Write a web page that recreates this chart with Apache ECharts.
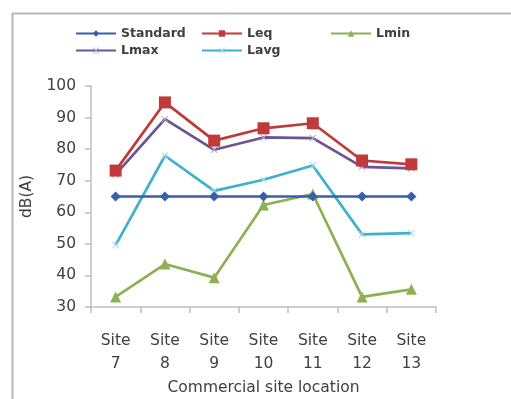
<!DOCTYPE html>
<html>
<head>
<meta charset="utf-8">
<script src="https://cdn.jsdelivr.net/npm/echarts@6/dist/echarts.min.js"></script>
<style>
  html, body { margin: 0; padding: 0; background: #fff; }
  #chart { width: 511px; height: 399px; }
</style>
</head>
<body>
<div id="chart"></div>
<script>
// Noise levels at commercial sites, dB(A)
const sites = ['Site\n7', 'Site\n8', 'Site\n9', 'Site\n10', 'Site\n11', 'Site\n12', 'Site\n13'];
const standard = [65, 65, 65, 65, 65, 65, 65];
const leq  = [73.2, 94.8, 82.7, 86.6, 88.2, 76.4, 75.2];
const lmin = [33.2, 43.6, 39.3, 62.3, 65.8, 33.2, 35.6];
const lmax = [72.0, 89.5, 79.8, 83.7, 83.5, 74.4, 73.9];
const lavg = [49.6, 77.9, 66.8, 70.3, 74.8, 53.0, 53.4];

const FONT = '"DejaVu Sans", "Liberation Sans", sans-serif';
const CROSS = 'path://M0,1 L1,0 L5,4 L9,0 L10,1 L6,5 L10,9 L9,10 L5,6 L1,10 L0,9 L4,5 Z';
const chart = echarts.init(document.getElementById('chart'), null, { renderer: 'canvas' });

function lineSeries(name, data, color, symbol, size, z, markColor) {
  return {
    name, type: 'line', data, z,
    symbol, symbolSize: size,
    lineStyle: { color, width: 2.7 },
    itemStyle: { color: markColor || color, borderColor: markColor || color, borderWidth: 0 },
    emphasis: { disabled: true },
    animation: false
  };
}

// one legend block per entry so each sits in its own column
function legendItem(name, left, top) {
  return {
    data: [name], left, top, itemWidth: 40, itemHeight: 8, selectedMode: false,
    textStyle: { fontFamily: FONT, fontSize: 12.5, fontWeight: 'bold', color: '#404040' },
    itemGap: 4
  };
}

chart.setOption({
  animation: false,
  graphic: [{
    type: 'rect', left: 10, top: 11,
    shape: { width: 520, height: 420 },
    style: { fill: 'none', stroke: '#b8b8b8', lineWidth: 2 },
    z: -1
  }],
  legend: [
    legendItem('Standard', 70, 22),
    legendItem('Leq', 196, 22),
    legendItem('Lmin', 325, 22),
    legendItem('Lmax', 70, 39),
    legendItem('Lavg', 196, 39)
  ],
  grid: { left: 91, right: 75, top: 86, bottom: 92, outerBoundsMode: 'none', containLabel: false },
  xAxis: {
    type: 'category', data: sites, boundaryGap: true,
    name: 'Commercial site location', nameLocation: 'middle', nameGap: 73,
    nameTextStyle: { fontFamily: FONT, fontSize: 15.5, color: '#404040' },
    axisLine: { lineStyle: { color: '#bfbfbf', width: 1.5 } },
    axisTick: { show: true, length: 6, lineStyle: { color: '#bfbfbf', width: 1.5 } },
    axisLabel: { fontFamily: FONT, fontSize: 15.5, color: '#404040', lineHeight: 23, margin: 22 }
  },
  yAxis: {
    type: 'value', min: 30, max: 100, interval: 10,
    name: 'dB(A)', nameLocation: 'middle', nameGap: 56, nameRotate: 90,
    nameTextStyle: { fontFamily: FONT, fontSize: 15.5, color: '#404040' },
    splitLine: { show: false },
    axisLine: { show: true, lineStyle: { color: '#bfbfbf', width: 1.5 } },
    axisTick: { show: true, length: 6, lineStyle: { color: '#bfbfbf', width: 1.5 } },
    axisLabel: { fontFamily: FONT, fontSize: 15.5, color: '#404040', margin: 15 }
  },
  series: [
    lineSeries('Standard', standard, '#3b5ea8', 'diamond', 10, 5),
    lineSeries('Leq', leq, '#c0393b', 'rect', 12, 4),
    lineSeries('Lmin', lmin, '#8db052', 'triangle', 11, 3),
    lineSeries('Lmax', lmax, '#6b5494', CROSS, 7, 2, '#b7a6cf'),
    lineSeries('Lavg', lavg, '#3fb1cc', CROSS, 7, 2, '#a9dbe8')
  ]
});
</script>
</body>
</html>
